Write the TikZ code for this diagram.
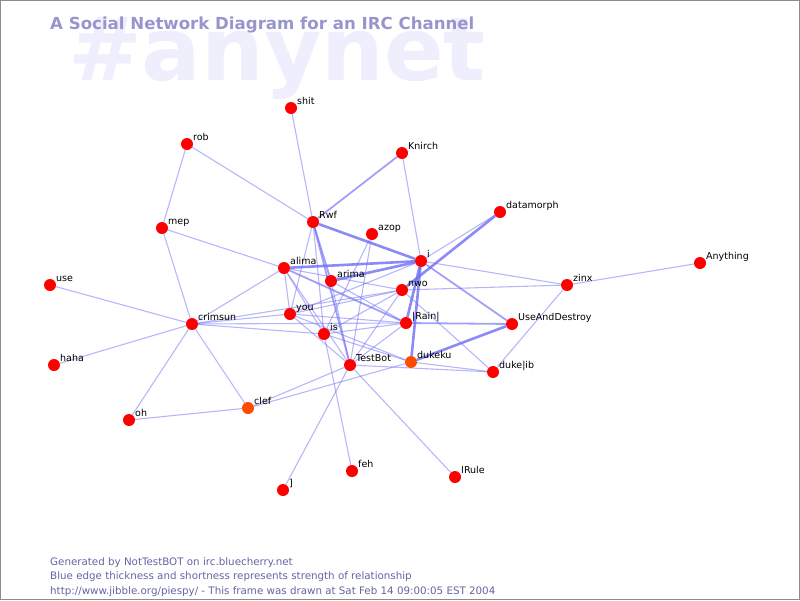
\documentclass[tikz,border=0pt]{standalone}
\usepackage{fontspec}
\setmainfont{DejaVu Sans}
\usetikzlibrary{backgrounds}
\definecolor{tieblue}{RGB}{110,110,245}
\definecolor{dotred}{RGB}{255,0,0}
\definecolor{dotorange}{RGB}{255,75,0}
\definecolor{titleblue}{RGB}{150,150,205}
\definecolor{markblue}{RGB}{238,238,253}
\definecolor{noteblue}{RGB}{100,100,165}
\tikzset{
  person/.style={circle, fill=#1, inner sep=0pt, minimum size=12pt},
  nick/.style={font=\fontsize{9.5}{10}\selectfont, inner sep=0pt, anchor=base west},
  note/.style={font=\fontsize{10.3}{11}\selectfont, text=noteblue, inner sep=0pt, anchor=base west},
  tie/.style={draw=tieblue, line width=1.1pt, opacity=0.5},
  bond/.style={draw=tieblue, line width=1.8pt, opacity=0.65},
  link/.style={draw=tieblue, line width=2.6pt, opacity=0.8},
}
\begin{document}
\begin{tikzpicture}[x=1pt, y=-1pt]
    \useasboundingbox (0,0) rectangle (800,600);
    \draw[gray!90, line width=1pt] (0.5,0.5) rectangle (799.5,599.5);
    % people
    \foreach \n/\x/\y/\l/\c in {shit/291/108/shit/dotred, rob/187/144/rob/dotred,
        Knirch/402/153/Knirch/dotred, datamorph/500/212/datamorph/dotred,
        Rwf/313/222/Rwf/dotred, azop/372/234/azop/dotred, mep/162/228/mep/dotred,
        i/421/261/i/dotred, Anything/700/263/Anything/dotred,
        alima/284/268/alima/dotred, arima/331/281/arima/dotred,
        zinx/567/285/zinx/dotred, use/50/285/use/dotred, nwo/402/290/nwo/dotred,
        you/290/314/you/dotred, crimsun/192/324/crimsun/dotred,
        Rain/406/323/|Rain|/dotred, UseAndDestroy/512/324/UseAndDestroy/dotred,
        is/324/334/is/dotred, haha/54/365/haha/dotred, TestBot/350/365/TestBot/dotred,
        dukeku/411/362/dukeku/dotorange, dukelib/493/372/duke|ib/dotred,
        clef/248/408/clef/dotorange, oh/129/420/oh/dotred, feh/352/471/feh/dotred,
        IRule/455/477/IRule/dotred, rbr/283/490/{]}/dotred}{
        \node[person=\c] (\n) at (\x,\y) {};
        \node[nick] (\n-nick) at (\x+6,\y-4) {\l};
    }
    \begin{scope}[on background layer]
    \node[anchor=base west, inner sep=0pt, text=markblue,
        font=\bfseries\fontsize{88}{88}\selectfont] (mark) at (68,80) {\#anynet};
    \node[anchor=base west, inner sep=0pt, text=titleblue,
        font=\bfseries\fontsize{16.6}{17}\selectfont] (title) at (50,29.5)
        {A Social Network Diagram for an IRC Channel};
    % weak ties
    \foreach \a/\b in {shit/Rwf, rob/Rwf, rob/mep, Knirch/i, mep/alima, mep/crimsun,
        use/crimsun, haha/crimsun, oh/crimsun, oh/clef, crimsun/clef, crimsun/alima,
        crimsun/you, crimsun/nwo, crimsun/is, crimsun/Rain, clef/TestBot, clef/dukeku,
        rbr/TestBot, feh/is, IRule/TestBot, datamorph/i, i/zinx, nwo/zinx,
        zinx/Anything, zinx/dukelib, dukeku/dukelib, nwo/dukelib, TestBot/dukelib,
        azop/is, azop/TestBot, Rwf/you, Rwf/is, alima/nwo, alima/is, alima/TestBot,
        arima/Rain, arima/TestBot, you/i, you/nwo, you/Rain, you/TestBot, you/dukeku,
        is/nwo, is/Rain, is/dukeku, TestBot/nwo, TestBot/Rain, alima/you}
        \draw[tie] (\a) -- (\b);
    % stronger ties
    \foreach \a/\b in {i/UseAndDestroy, Rwf/TestBot, Knirch/Rwf, Rwf/arima,
        alima/Rain, Rain/UseAndDestroy}
        \draw[bond] (\a) -- (\b);
    \foreach \a/\b in {Rwf/i, alima/i, arima/i, i/Rain, i/dukeku, datamorph/nwo,
        dukeku/UseAndDestroy}
        \draw[link] (\a) -- (\b);
    \end{scope}
    % footer
    \node[note] (note1) at (50,565) {Generated by NotTestBOT on irc.bluecherry.net};
    \node[note] (note2) at (50,579.5) {Blue edge thickness and shortness represents strength of relationship};
    \node[note] (note3) at (50,594) {http://www.jibble.org/piespy/ - This frame was drawn at Sat Feb 14 09:00:05 EST 2004};
\end{tikzpicture}
\end{document}
